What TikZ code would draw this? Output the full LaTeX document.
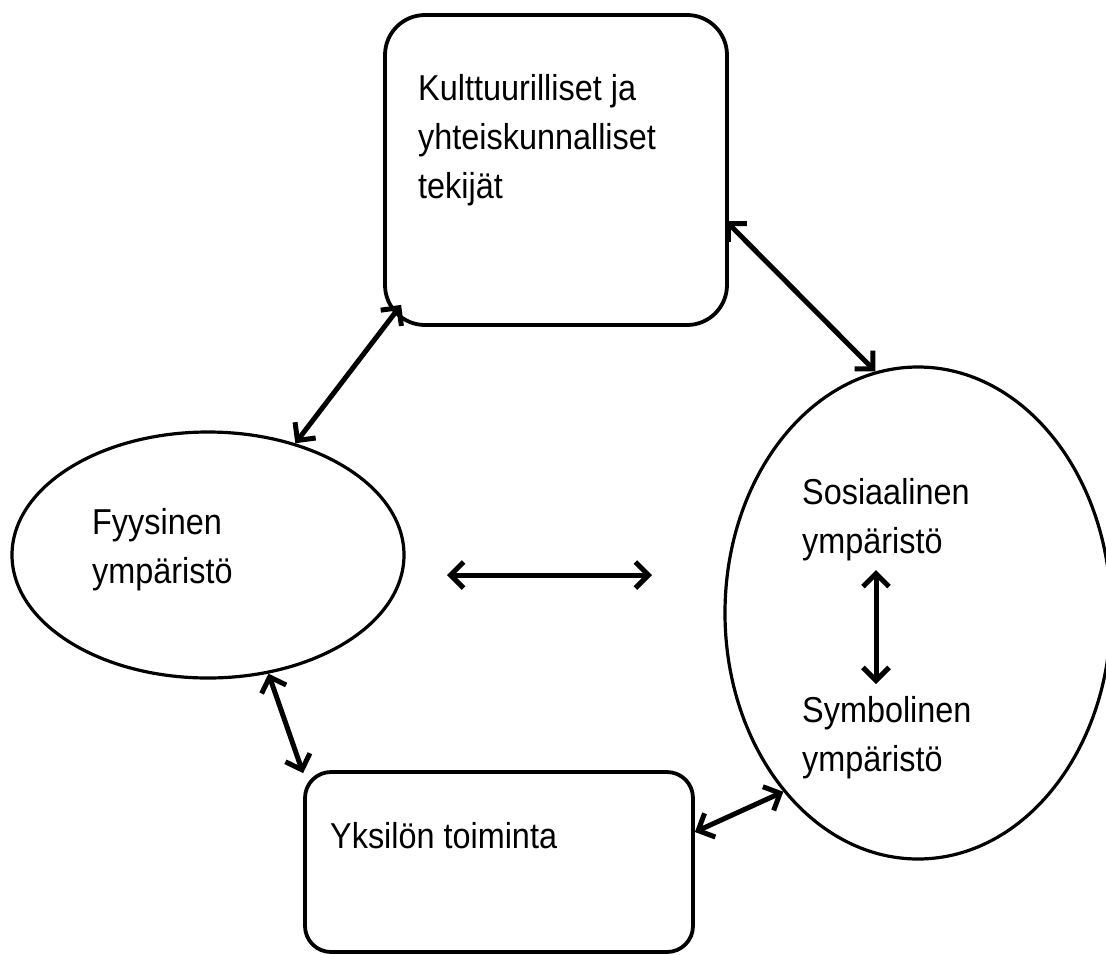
\documentclass[tikz,border=0pt]{standalone}
\usepackage{fontspec}
\setmainfont{Liberation Sans}[FakeStretch=0.9]
\usetikzlibrary{arrows.meta,shapes.geometric,calc}
\begin{document}
\begin{tikzpicture}[x=1pt,y=-1pt,
  box/.style={draw, line width=3.8pt, rounded corners=#1, inner sep=0pt},
  oval/.style={draw, ellipse, line width=3.2pt, inner sep=0pt},
  lbl/.style={anchor=base west, align=left, inner sep=0pt, font=\fontsize{36}{49}\selectfont},
  biarrow/.style={line width=5pt, {Straight Barb[length=13pt,width=26pt]}-{Straight Barb[length=13pt,width=26pt]}}]
\useasboundingbox[fill=white] (0,0) rectangle (1106,954);
% shapes
\node[box=40pt, minimum width=342pt, minimum height=310pt] (trect) at (556,170) {};
\node[box=26pt, minimum width=388pt, minimum height=180pt] (brect) at (499,862) {};
\node[oval, minimum width=392pt, minimum height=246pt] (lell) at (208,555) {};
\node[oval, minimum width=386pt, minimum height=492pt] (rell) at (918,613) {};
% texts (anchor = baseline of the last line)
\node[lbl] (tkult) at (418,198) {Kulttuurilliset ja\\yhteiskunnalliset\\tekijät};
\node[lbl] (tfyys) at (92,583) {Fyysinen\\ympäristö};
\node[lbl] (tsos) at (802,553) {Sosiaalinen\\ympäristö};
\node[lbl] (tsym) at (802,771) {Symbolinen\\ympäristö};
\node[lbl] (tyks) at (330,848) {Yksilön toiminta};
% free ends
\coordinate (m1) at (447,575);
\coordinate (m2) at (652,575);
\coordinate (i1) at (876,570);
\coordinate (i2) at (876,684);
% connectors
\draw[biarrow] (lell.52) -- ($(trect.south west)+(18,-22)$);
\draw[biarrow] ($(trect.east)+(-3,51)$) -- (rell.100);
\draw[biarrow] (m1) -- (m2);
\draw[biarrow] (i1) -- (i2);
\draw[biarrow] (lell.-63) -- ($(brect.north west)+(0,3)$);
\draw[biarrow] ($(brect.east)+(0,-30)$) -- (rell.233);
\end{tikzpicture}
\end{document}
